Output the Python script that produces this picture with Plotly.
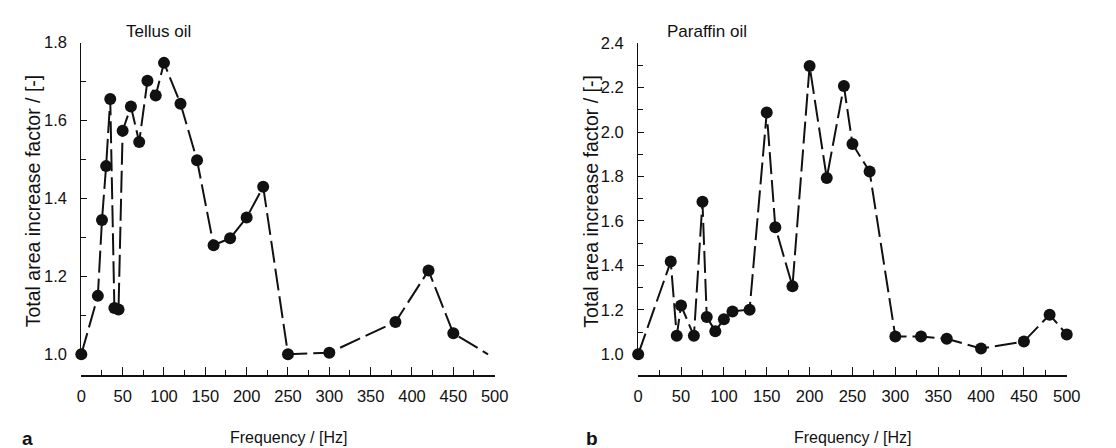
import plotly.graph_objects as go

# ---- data ----
tellus_freq = [0, 20, 25, 30, 35, 40, 45, 50, 60, 70, 80, 90, 100, 120, 140, 160, 180, 200, 220, 250, 300, 380, 420, 450]
tellus_val = [1.00, 1.150, 1.345, 1.483, 1.655, 1.119, 1.115, 1.574, 1.636, 1.545, 1.702, 1.664, 1.748, 1.643, 1.498, 1.280, 1.298, 1.351, 1.430, 1.00, 1.004, 1.083, 1.215, 1.054]
tellus_line_end_freq = [492]
tellus_line_end_val = [1.00]

paraffin_freq = [0, 38, 45, 50, 65, 75, 80, 90, 100, 110, 130, 150, 160, 180, 200, 220, 240, 250, 270, 300, 330, 360, 400, 450, 480, 500]
paraffin_val = [1.00, 1.417, 1.083, 1.220, 1.083, 1.686, 1.168, 1.104, 1.158, 1.193, 1.201, 2.088, 1.572, 1.306, 2.297, 1.793, 2.207, 1.946, 1.822, 1.080, 1.080, 1.070, 1.026, 1.058, 1.178, 1.089]

panel_titles = ["Tellus oil", "Paraffin oil"]
panel_letters = ["a", "b"]
x_title = "Frequency / [Hz]"
y_title = "Total area increase factor / [-]"

W, H = 1116, 448
FONT = "Liberation Sans, Arial, Helvetica, sans-serif"
INK = "#111111"


def px_x(p):
    return p / W


def px_y(p):
    return (H - p) / H


fig = go.Figure()

dash = "22px,6px"
line_style = dict(color=INK, width=2, dash=dash)
marker_style = dict(color=INK, size=12, line=dict(width=0))

# panel a
fig.add_trace(go.Scatter(
    x=tellus_freq + tellus_line_end_freq, y=tellus_val + tellus_line_end_val,
    mode="lines", line=line_style, xaxis="x", yaxis="y",
    cliponaxis=False, showlegend=False, hoverinfo="skip"))
fig.add_trace(go.Scatter(
    x=tellus_freq, y=tellus_val, mode="markers", marker=marker_style,
    xaxis="x", yaxis="y", cliponaxis=False, showlegend=False))

# panel b
fig.add_trace(go.Scatter(
    x=paraffin_freq, y=paraffin_val, mode="lines", line=line_style,
    xaxis="x2", yaxis="y2", cliponaxis=False, showlegend=False, hoverinfo="skip"))
fig.add_trace(go.Scatter(
    x=paraffin_freq, y=paraffin_val, mode="markers", marker=marker_style,
    xaxis="x2", yaxis="y2", cliponaxis=False, showlegend=False))

tickfont = dict(family=FONT, size=16.5, color=INK)

def xaxis_cfg(x0, x1, pos):
    return dict(
        domain=[px_x(x0), px_x(x1)], range=[0, 500], anchor="free", position=pos,
        tickmode="linear", tick0=0, dtick=50, ticks="inside", ticklen=8, tickwidth=1,
        tickcolor=INK, showline=True, linecolor=INK, linewidth=1.5,
        showgrid=False, zeroline=False, tickfont=tickfont, ticklabelstandoff=5,
        minor=dict(dtick=25, tick0=0, ticks="inside", ticklen=5, tickwidth=1, tickcolor=INK, showgrid=False),
    )


def yaxis_cfg(y0, y1, rng, anchor):
    return dict(
        domain=[px_y(y0), px_y(y1)], range=rng, anchor=anchor,
        tickmode="linear", tick0=1.0, dtick=0.2, tickformat=".1f",
        ticks="inside", ticklen=6, tickwidth=1, tickcolor=INK,
        showline=True, linecolor=INK, linewidth=1.2,
        showgrid=False, zeroline=False, tickfont=tickfont, ticklabelstandoff=10,
        minor=dict(dtick=0.1, tick0=1.0, ticks="inside", ticklen=5, tickwidth=1, tickcolor=INK, showgrid=False),
    )

# panel a geometry: x 0->69.5px, 500->490px ; y 1.8 -> 26.5px, 1.0 -> 349px
ya_lo = 0.99
ya_bottom_px = 349 + (1.0 - ya_lo) * (349 - 26.5) / 0.8
yb_lo = 0.99
yb_bottom_px = 349 + (1.0 - yb_lo) * (349 - 27) / 1.4

fig.update_layout(
    width=W, height=H, margin=dict(l=0, r=0, t=0, b=0),
    paper_bgcolor="white", plot_bgcolor="white",
    font=dict(family=FONT, color=INK),
    xaxis=xaxis_cfg(69.5, 490, px_y(371.5)),
    yaxis=yaxis_cfg(ya_bottom_px, 26.5, [ya_lo, 1.8], "x"),
    xaxis2=xaxis_cfg(636, 1072, px_y(371.5)),
    yaxis2=yaxis_cfg(yb_bottom_px, 27, [yb_lo, 2.4], "x2"),
)

annotations = []
centers = [(280, 20, 148), (854, 588, 706)]
for i, (cx, ytx, ttx) in enumerate(centers):
    annotations.append(dict(text=x_title, x=px_x(cx), y=px_y(435), xref="paper", yref="paper",
                            showarrow=False, xanchor="center", yanchor="middle",
                            font=dict(family=FONT, size=16, color=INK)))
    annotations.append(dict(text=y_title, x=px_x(ytx), y=px_y(190), xref="paper", yref="paper",
                            showarrow=False, textangle=-90, xanchor="center", yanchor="middle",
                            font=dict(family=FONT, size=19.5, color=INK)))
    annotations.append(dict(text=panel_titles[i], x=px_x(ttx), y=px_y(15), xref="paper", yref="paper",
                            showarrow=False, xanchor="center", yanchor="middle",
                            font=dict(family=FONT, size=17, color=INK)))
annotations.append(dict(text="<b>a</b>", x=px_x(15), y=px_y(436), xref="paper", yref="paper",
                        showarrow=False, xanchor="center", yanchor="middle",
                        font=dict(family=FONT, size=19, color=INK)))
annotations.append(dict(text="<b>b</b>", x=px_x(589), y=px_y(436), xref="paper", yref="paper",
                        showarrow=False, xanchor="center", yanchor="middle",
                        font=dict(family=FONT, size=19, color=INK)))
fig.update_layout(annotations=annotations)

fig.write_html("out.html")
